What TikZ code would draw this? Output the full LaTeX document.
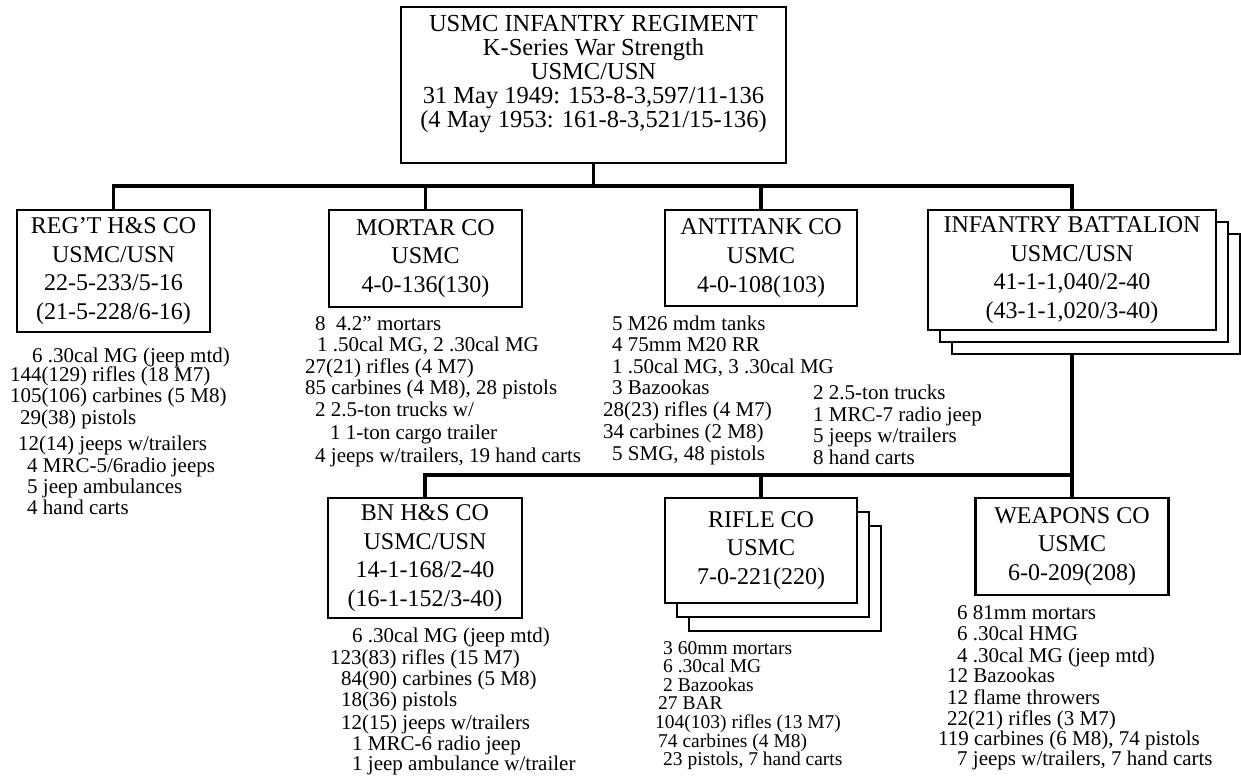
\documentclass[tikz,border=0pt]{standalone}
\usepackage{fontspec}
\setmainfont{Liberation Serif}
\tikzset{
  box/.style={draw, line width=2.6pt, fill=white, align=center, inner sep=0pt, font=\fontsize{24}{28.7}\selectfont},
  conn/.style={line width=3.2pt},
  eqline/.style={anchor=base west, inner sep=0pt, font=\fontsize{21}{21}\selectfont},
  eqsmall/.style={eqline, font=\fontsize{19.5}{19.5}\selectfont},
}
\newcommand\eqitem[5][eqline]{\node[#1] (#2) at (#3,#4) {#5};}
\begin{document}
\begin{tikzpicture}[x=1pt,y=-1pt]
\useasboundingbox (0,0) rectangle (1241,780);
% top box
\node[box, minimum width=385, minimum height=156] (reg) at (593.5,85) {};
\node[align=center, inner sep=0pt, font=\fontsize{24.5}{24}\selectfont] (regtxt) at (593.5,74) {USMC INFANTRY REGIMENT\\K-Series War Strength\\USMC/USN\\31 May 1949: 153-8-3,597/11-136\\(4 May 1953: 161-8-3,521/15-136)};
% row 1
\node[box, minimum width=193, minimum height=122] (hs) at (113.5,271) {REG’T H\&S CO\\USMC/USN\\22-5-233/5-16\\(21-5-228/6-16)};
\node[box, minimum width=193, minimum height=97] (mo) at (425.5,258.5) {MORTAR CO\\USMC\\4-0-136(130)};
\node[box, minimum width=192, minimum height=96] (at) at (761,258) {ANTITANK CO\\USMC\\4-0-108(103)};
\node[box, minimum width=288, minimum height=120] (ib3) at (1096,294) {};
\node[box, minimum width=288, minimum height=120] (ib2) at (1084,282) {};
\node[box, minimum width=288, minimum height=120] (ib) at (1072,270) {INFANTRY BATTALION\\USMC/USN\\41-1-1,040/2-40\\(43-1-1,020/3-40)};
% row 2
\node[box, minimum width=194, minimum height=120] (bhs) at (425,558) {BN H\&S CO\\USMC/USN\\14-1-168/2-40\\(16-1-152/3-40)};
\node[box, minimum width=192, minimum height=105] (rc3) at (785,578.5) {};
\node[box, minimum width=192, minimum height=105] (rc2) at (773,564.5) {};
\node[box, minimum width=192, minimum height=105] (rc) at (761,550.5) {RIFLE CO\\USMC\\7-0-221(220)};
\node[box, minimum width=193, minimum height=97] (wc) at (1072,546.5) {WEAPONS CO\\USMC\\6-0-209(208)};
% connectors
\coordinate (bus1) at (593.5,186);
\coordinate (bus2) at (1072,475);
\draw[conn] (reg.south) -- (bus1);
\draw[conn] (hs.north) |- (bus1) -| (ib.north);
\draw[conn] (mo.north) -- (mo.north |- bus1);
\draw[conn] (at.north) -- (at.north |- bus1);
\draw[conn] (ib.north |- ib3.south) -- (bus2) -| (bhs.north);
\draw[conn] (rc.north) -- (rc.north |- bus2);
\draw[conn] (wc.north) -- (wc.north |- bus2);
% REG'T H&S list
\eqitem{hsa}{32}{362}{6 .30cal MG (jeep mtd)}
\eqitem{hsb}{10}{381}{144(129) rifles (18 M7)}
\eqitem{hsc}{10}{402}{105(106) carbines (5 M8)}
\eqitem{hsd}{20}{424}{29(38) pistols}
\eqitem{hse}{18}{450}{12(14) jeeps w/trailers}
\eqitem{hsf}{27}{472}{4 MRC-5/6radio jeeps}
\eqitem{hsg}{27}{493}{5 jeep ambulances}
\eqitem{hsh}{27}{514}{4 hand carts}
% Mortar list
\eqitem{moa}{315}{330}{8 \ 4.2” mortars}
\eqitem{mob}{317}{351}{1 .50cal MG, 2 .30cal MG}
\eqitem{moc}{305}{373}{27(21) rifles (4 M7)}
\eqitem{mod}{305}{394}{85 carbines (4 M8), 28 pistols}
\eqitem{moe}{315}{416}{2 2.5-ton trucks w/}
\eqitem{mof}{330}{439}{1 1-ton cargo trailer}
\eqitem{mog}{315}{462}{4 jeeps w/trailers, 19 hand carts}
% Antitank list
\eqitem{ata}{612}{330}{5 M26 mdm tanks}
\eqitem{atb}{612}{351}{4 75mm M20 RR}
\eqitem{atc}{612}{373}{1 .50cal MG, 3 .30cal MG}
\eqitem{atd}{612}{394}{3 Bazookas}
\eqitem{ate}{603}{416}{28(23) rifles (4 M7)}
\eqitem{atf}{603}{438}{34 carbines (2 M8)}
\eqitem{atg}{612}{460}{5 SMG, 48 pistols}
% Infantry battalion list
\eqitem{iba}{813}{399}{2 2.5-ton trucks}
\eqitem{ibb}{813}{421}{1 MRC-7 radio jeep}
\eqitem{ibc}{813}{442}{5 jeeps w/trailers}
\eqitem{ibd}{813}{464}{8 hand carts}
% BN H&S list
\eqitem{bha}{352}{642}{6 .30cal MG (jeep mtd)}
\eqitem{bhb}{330}{664}{123(83) rifles (15 M7)}
\eqitem{bhc}{341}{685}{84(90) carbines (5 M8)}
\eqitem{bhd}{341}{706}{18(36) pistols}
\eqitem{bhe}{341}{729}{12(15) jeeps w/trailers}
\eqitem{bhf}{352}{750}{1 MRC-6 radio jeep}
\eqitem{bhg}{352}{770}{1 jeep ambulance w/trailer}
% Rifle CO list
\eqitem[eqsmall]{rca}{663}{654}{3 60mm mortars}
\eqitem[eqsmall]{rcb}{663}{672.6}{6 .30cal MG}
\eqitem[eqsmall]{rcc}{663}{691.2}{2 Bazookas}
\eqitem[eqsmall]{rcd}{658}{709.8}{27 BAR}
\eqitem[eqsmall]{rce}{655}{728.4}{104(103) rifles (13 M7)}
\eqitem[eqsmall]{rcf}{658}{747}{74 carbines (4 M8)}
\eqitem[eqsmall]{rcg}{663}{765.6}{23 pistols, 7 hand carts}
% Weapons CO list
\eqitem{wca}{957}{619}{6 81mm mortars}
\eqitem{wcb}{957}{640}{6 .30cal HMG}
\eqitem{wcc}{957}{662}{4 .30cal MG (jeep mtd)}
\eqitem{wcd}{947}{682}{12 Bazookas}
\eqitem{wce}{947}{704}{12 flame throwers}
\eqitem{wcf}{947}{725}{22(21) rifles (3 M7)}
\eqitem{wcg}{938}{745}{119 carbines (6 M8), 74 pistols}
\eqitem{wch}{957}{765}{7 jeeps w/trailers, 7 hand carts}
\end{tikzpicture}
\end{document}
